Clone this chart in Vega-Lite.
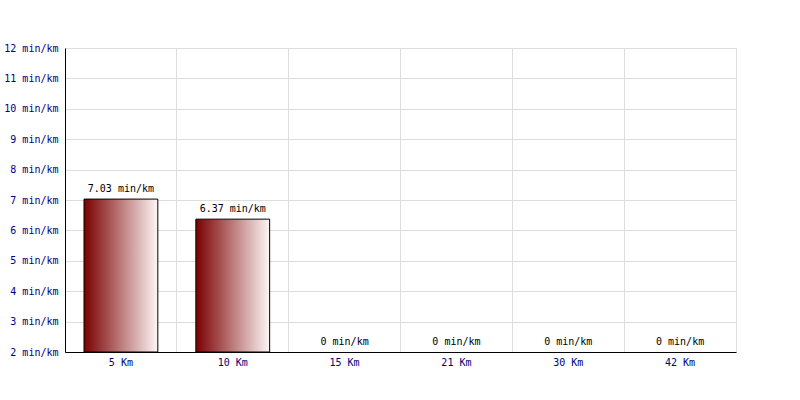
{
  "$schema": "https://vega.github.io/schema/vega-lite/v6.json",
  "width": 671,
  "height": 304,
  "autosize": {"type": "none"},
  "padding": {"left": 65, "top": 48, "right": 64, "bottom": 48},
  "background": "white",
  "config": {
    "view": {"stroke": "#dddddd"},
    "font": "DejaVu Sans Mono"
  },
  "data": {
    "values": [
      {"distance": "5 Km", "pace": 7.03},
      {"distance": "10 Km", "pace": 6.37},
      {"distance": "15 Km", "pace": 0},
      {"distance": "21 Km", "pace": 0},
      {"distance": "30 Km", "pace": 0},
      {"distance": "42 Km", "pace": 0}
    ]
  },
  "transform": [
    {"calculate": "format(datum.pace, '.3~f') + ' min/km'", "as": "label"}
  ],
  "encoding": {
    "x": {
      "field": "distance",
      "type": "nominal",
      "sort": null,
      "scale": {"paddingInner": 0, "paddingOuter": 0},
      "axis": {
        "title": null,
        "labelAngle": 0,
        "labelFont": "DejaVu Sans Mono",
        "labelFontSize": 10,
        "labelColor": "#000080",
        "labelPadding": 5,
        "ticks": false,
        "domainColor": "#000000",
        "domainWidth": 1,
        "grid": true,
        "gridColor": "#dddddd",
        "bandPosition": 0
      }
    },
    "y": {
      "field": "pace",
      "type": "quantitative",
      "scale": {"domain": [2, 12], "zero": false, "clamp": true},
      "axis": {
        "title": null,
        "values": [2, 3, 4, 5, 6, 7, 8, 9, 10, 11, 12],
        "labelExpr": "datum.value + ' min/km'",
        "labelFont": "DejaVu Sans Mono",
        "labelFontSize": 10,
        "labelColor": "#000080",
        "labelPadding": 7,
        "ticks": false,
        "domainColor": "#000000",
        "grid": true,
        "gridColor": "#dddddd"
      }
    }
  },
  "layer": [
    {
      "transform": [{"filter": "datum.pace > 2"}],
      "mark": {
        "type": "bar",
        "clip": true,
        "width": {"band": 0.66},
        "stroke": "#000000",
        "strokeWidth": 1,
        "color": {
          "gradient": "linear",
          "x1": 0, "x2": 1, "y1": 0, "y2": 0,
          "stops": [
            {"offset": 0, "color": "#7a0000"},
            {"offset": 1, "color": "#fdf6f6"}
          ]
        }
      }
    },
    {
      "mark": {
        "type": "text",
        "baseline": "middle",
        "dy": -10,
        "font": "DejaVu Sans Mono",
        "fontSize": 10,
        "color": "#000000"
      },
      "encoding": {
        "text": {"field": "label", "type": "nominal"},
        "y": {"field": "pace", "type": "quantitative"}
      }
    }
  ]
}
